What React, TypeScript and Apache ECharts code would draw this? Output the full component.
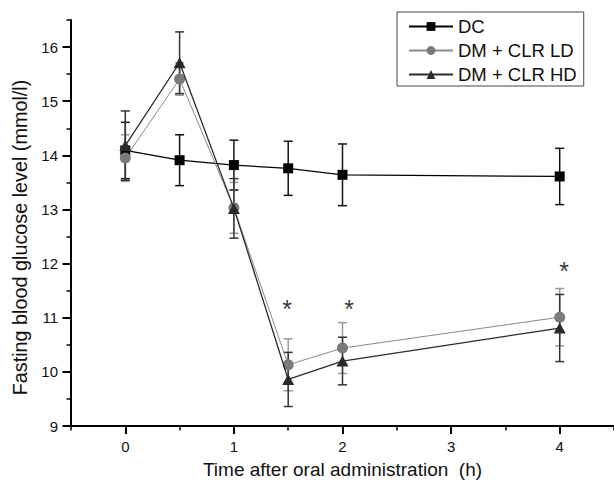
import React, { useEffect, useRef } from "react";
import * as echarts from "echarts";

const seriesNames = ["DC", "DM + CLR LD", "DM + CLR HD"];
const timePoints = [0, 0.5, 1, 1.5, 2, 4];
const dcMean = [14.09, 13.91, 13.82, 13.76, 13.64, 13.61];
const dcErr = [0.52, 0.47, 0.46, 0.5, 0.57, 0.52];
const ldMean = [13.95, 15.41, 13.03, 10.13, 10.44, 11.01];
const ldErr = [0.43, 0.3, 0.47, 0.48, 0.47, 0.53];
const hdMean = [14.18, 15.71, 13.02, 9.86, 10.2, 10.81];
const hdErr = [0.64, 0.57, 0.55, 0.5, 0.44, 0.62];
const starX = [1.49, 2.06, 4.04];
const starY = [11.28, 11.28, 11.98];
const xTicks = [0, 1, 2, 3, 4];
const yTicks = [9, 10, 11, 12, 13, 14, 15, 16];

const FONT = "'Liberation Sans', Arial, sans-serif";

function errData(mean: number[], err: number[]) {
  return timePoints.map((x, i) => [x, mean[i] - err[i], mean[i] + err[i]]);
}

function errSeries(name: string, mean: number[], err: number[], color: string) {
  return {
    type: "custom",
    name,
    xAxisIndex: 0,
    yAxisIndex: 0,
    silent: true,
    z: 1,
    encode: { x: 0, y: [1, 2] },
    data: errData(mean, err),
    renderItem: (params: any, api: any) => {
      const x = api.value(0);
      const lo = api.coord([x, api.value(1)]);
      const hi = api.coord([x, api.value(2)]);
      const w = 4.5;
      const style = { stroke: color, lineWidth: 1.5 };
      return {
        type: "group",
        children: [
          { type: "line", shape: { x1: lo[0], y1: lo[1], x2: hi[0], y2: hi[1] }, style },
          { type: "line", shape: { x1: lo[0] - w, y1: lo[1], x2: lo[0] + w, y2: lo[1] }, style },
          { type: "line", shape: { x1: hi[0] - w, y1: hi[1], x2: hi[0] + w, y2: hi[1] }, style },
        ],
      };
    },
  };
}

function lineData(mean: number[]) {
  return timePoints.map((x, i) => [x, mean[i]]);
}

export default function App() {
  const ref = useRef<HTMLDivElement>(null);
  useEffect(() => {
    if (!ref.current) return;
    const chart = echarts.init(ref.current, null, { renderer: "svg" });
    const axisLineStyle = { color: "#000", width: 2 };
    chart.setOption({
      animation: false,
      backgroundColor: "#fff",
      textStyle: { fontFamily: FONT },
      grid: { left: 71, top: 20, width: 543, height: 406, containLabel: false, outerBoundsMode: "none" },
      legend: {
        orient: "vertical",
        left: 397,
        top: 12,
        padding: [5, 7, 2, 11],
        itemGap: 5,
        itemWidth: 44,
        itemHeight: 11,
        borderColor: "#444",
        borderWidth: 1,
        textStyle: { fontSize: 18.5, color: "#111", fontFamily: FONT },
        data: seriesNames,
      },
      xAxis: [
        {
          type: "value",
          min: -0.5,
          max: 4.5,
          position: "bottom",
          name: "Time after oral administration  (h)",
          nameLocation: "middle",
          nameGap: 34,
          nameTextStyle: { fontSize: 19, color: "#111", fontFamily: FONT },
          axisLine: { show: true, onZero: false, lineStyle: axisLineStyle },
          axisTick: { show: true, length: 8, customValues: xTicks, lineStyle: { color: "#000", width: 2 } },
          axisLabel: { customValues: xTicks, fontSize: 15, color: "#111", margin: 13, fontFamily: FONT },
          splitLine: { show: false },
        },
        {
          type: "value",
          min: -0.5,
          max: 4.5,
          interval: 0.5,
          position: "bottom",
          axisLine: { show: false, onZero: false },
          axisTick: { show: true, length: 4.5, lineStyle: { color: "#000", width: 1.5 } },
          axisLabel: { show: false },
          splitLine: { show: false },
        },
      ],
      yAxis: [
        {
          type: "value",
          min: 9,
          max: 16.5,
          position: "left",
          name: "Fasting blood glucose level (mmol/l)",
          nameLocation: "middle",
          nameGap: 37,
          nameTextStyle: { fontSize: 19.8, color: "#111", fontFamily: FONT, padding: [0, 29, 0, 0] },
          axisLine: { show: true, onZero: false, lineStyle: axisLineStyle },
          axisTick: { show: true, length: 8.5, customValues: yTicks, lineStyle: { color: "#000", width: 2 } },
          axisLabel: { customValues: yTicks, fontSize: 15, color: "#111", margin: 13, fontFamily: FONT },
          splitLine: { show: false },
        },
        {
          type: "value",
          min: 9,
          max: 16.5,
          interval: 0.5,
          position: "left",
          axisLine: { show: false, onZero: false },
          axisTick: { show: true, length: 4.5, lineStyle: { color: "#000", width: 1.5 } },
          axisLabel: { show: false },
          splitLine: { show: false },
        },
      ],
      series: [
        errSeries("DC err", dcMean, dcErr, "#111"),
        errSeries("LD err", ldMean, ldErr, "#999"),
        errSeries("HD err", hdMean, hdErr, "#333"),
        {
          type: "line",
          name: seriesNames[0],
          xAxisIndex: 0,
          yAxisIndex: 0,
          data: lineData(dcMean),
          symbol: "rect",
          symbolSize: 10,
          z: 3,
          lineStyle: { color: "#000", width: 1.3 },
          itemStyle: { color: "#000" },
        },
        {
          type: "line",
          name: seriesNames[1],
          xAxisIndex: 0,
          yAxisIndex: 0,
          data: lineData(ldMean),
          symbol: "circle",
          symbolSize: 11,
          z: 3,
          lineStyle: { color: "#8a8a8a", width: 1 },
          itemStyle: { color: "#7a7a7a" },
        },
        {
          type: "line",
          name: seriesNames[2],
          xAxisIndex: 0,
          yAxisIndex: 0,
          data: lineData(hdMean),
          symbol: "triangle",
          symbolSize: [12, 11],
          z: 4,
          lineStyle: { color: "#2a2a2a", width: 1.3 },
          itemStyle: { color: "#2a2a2a" },
        },
        {
          type: "scatter",
          name: "significance",
          xAxisIndex: 0,
          yAxisIndex: 0,
          silent: true,
          symbolSize: 1,
          z: 5,
          itemStyle: { color: "rgba(0,0,0,0)" },
          data: starX.map((x, i) => [x, starY[i]]),
          label: {
            show: true,
            position: "inside",
            formatter: "*",
            fontSize: 25,
            color: "#000",
            offset: [0, 6],
            fontFamily: FONT,
          },
        },
      ],
    });
    return () => chart.dispose();
  }, []);
  return (
    <div
      ref={ref}
      style={{ position: "absolute", left: 0, top: 0, width: 614, height: 484, background: "#fff" }}
    />
  );
}
